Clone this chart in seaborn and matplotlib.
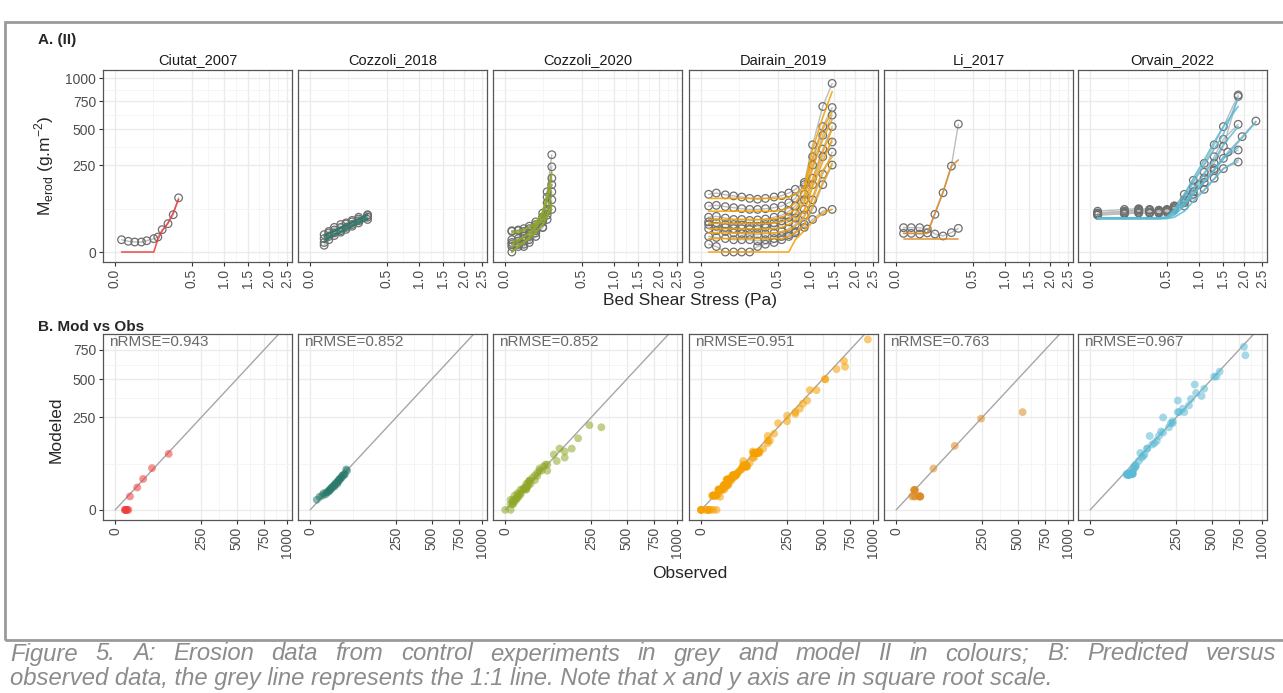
import numpy as np
import pandas as pd
import matplotlib
matplotlib.use('Agg')
import matplotlib.pyplot as plt
import seaborn as sns

# ---------------- DATA ----------------
studies = ['Ciutat_2007', 'Cozzoli_2018', 'Cozzoli_2020', 'Dairain_2019', 'Li_2017', 'Orvain_2022']
colours = ['#EE3B3B', '#2B7A6B', '#8FA82A', '#F5A000', '#DC8A25', '#5BBAD5']
nrmse = ['nRMSE=0.943', 'nRMSE=0.852', 'nRMSE=0.852', 'nRMSE=0.951', 'nRMSE=0.763', 'nRMSE=0.967']

# Ciutat_2007
ciu_x = [0.0037, 0.015, 0.033, 0.059, 0.085, 0.127, 0.155, 0.188, 0.237, 0.286, 0.341]
ciu_obs = [5.0, 3.8, 3.3, 3.3, 4.2, 5.9, 7.4, 16.5, 26.5, 46, 97]
ciu_mod = [0, 0, 0, 0, 0, 0, 5.3, 14.7, 28, 51, 92]

# Cozzoli_2018
coz18_x = [0.017, 0.03, 0.05, 0.08, 0.11, 0.15, 0.2, 0.28]
coz18_obs = [[3, 8, 12, 15, 20, 25, 32, 40],
             [6, 12, 16, 20, 26, 30, 36, 46],
             [1.5, 5, 9, 13, 17, 22, 28, 35],
             [10, 14, 20, 25, 28, 33, 40, 44]]
coz18_mod = [[5, 7, 10, 14, 18, 23, 30, 38],
             [8, 11, 14, 18, 23, 28, 35, 45],
             [3, 6, 9, 12, 16, 21, 27, 34],
             [9, 12, 16, 20, 25, 30, 36, 48]]

# Cozzoli_2020
coz20_x = [0.004, 0.015, 0.03, 0.05, 0.08, 0.12, 0.15, 0.185]
coz20_obs = [[2, 2, 1, 3, 8, 20, 60, 120],
             [15, 15, 14, 18, 25, 40, 80, 180],
             [0, 1, 2, 5, 15, 40, 120, 313],
             [3, 4, 6, 10, 20, 50, 100, 240],
             [14, 16, 18, 22, 30, 35, 45, 60],
             [1, 2, 4, 8, 12, 20, 35, 90],
             [5, 6, 8, 12, 18, 30, 55, 150]]
coz20_mod = [[1, 2, 3, 6, 12, 25, 45, 80],
             [12, 13, 15, 20, 30, 50, 90, 150],
             [0, 1, 3, 8, 20, 45, 100, 200],
             [2, 4, 7, 12, 25, 55, 110, 210],
             [14, 15, 17, 20, 26, 34, 45, 60],
             [0, 1, 3, 7, 14, 24, 40, 70],
             [4, 5, 8, 12, 20, 35, 60, 110]]

# Dairain_2019
dai_x = [0.005, 0.02, 0.05, 0.09, 0.14, 0.2, 0.27, 0.35, 0.45, 0.55, 0.65, 0.75, 0.9, 1.05, 1.25, 1.45]
dai_obs = [[110, 115, 108, 104, 100, 95, 92, 95, 100, 105, 115, 130, 160, 380, 700, 940],
           [70, 72, 68, 65, 62, 60, 60, 62, 65, 70, 80, 95, 150, 300, 520, 690],
           [40, 42, 38, 35, 35, 33, 34, 36, 40, 45, 55, 70, 110, 250, 450, 620],
           [30, 28, 25, 25, 24, 22, 22, 25, 28, 32, 40, 50, 90, 180, 350, 520],
           [25, 22, 20, 18, 18, 17, 18, 20, 22, 25, 30, 38, 60, 150, 300, 400],
           [18, 15, 14, 12, 11, 10, 10, 11, 12, 14, 18, 25, 45, 90, 200, 330],
           [8, 7, 6, 5, 5, 5, 4, 5, 6, 8, 10, 14, 25, 60, 150, 250],
           [2, 1, 0, 0, 0, 0, 1, 2, 3, 5, 8, 12, 20, 35, 55, 60]]
dai_mod = [[95, 95, 95, 95, 95, 95, 95, 95, 95, 95, 100, 110, 140, 350, 600, 850],
           [55, 55, 55, 55, 55, 55, 55, 55, 55, 58, 65, 80, 130, 280, 500, 650],
           [35, 35, 35, 35, 35, 35, 35, 35, 36, 40, 48, 60, 100, 230, 420, 580],
           [27, 27, 27, 27, 27, 27, 27, 27, 28, 30, 35, 45, 80, 170, 330, 500],
           [18, 18, 18, 18, 18, 18, 18, 18, 18, 20, 25, 33, 55, 140, 270, 420],
           [12, 12, 12, 12, 12, 12, 12, 12, 12, 13, 16, 22, 40, 100, 220, 300],
           [6, 6, 6, 6, 6, 6, 6, 6, 6, 6, 8, 12, 25, 70, 160, 260],
           [0, 0, 0, 0, 0, 0, 0, 0, 0, 0, 0, 5, 15, 30, 50, 60]]

# Li_2017
li_x = [0.0049, 0.0198, 0.0474, 0.083, 0.128, 0.187, 0.259, 0.328]
li_obs = [[19.6, 19.6, 19.6, 17.5, 10.7, 8.5, 12.4, 18.5],
          [11.5, 11.5, 10.7, 12, 46.9, 116, 244, 541]]
li_mod = [[5.3, 5.3, 5.3, 5.3, 5.3, 5.3, 5.3, 5.3],
          [11.5, 11.5, 11.5, 11.5, 50, 120, 244, 280]]

# Orvain_2022
orv_x = [0.005, 0.1, 0.2, 0.3, 0.4, 0.5, 0.6, 0.75, 0.9, 1.1, 1.3, 1.5, 1.85]
orv_x_long = [0.005, 0.1, 0.2, 0.3, 0.4, 0.5, 0.6, 0.8, 1.0, 1.3, 1.6, 1.95, 2.32]
orv_obs = [[50, 55, 58, 57, 55, 58, 70, 110, 170, 260, 380, 520, 815],
           [45, 50, 52, 50, 52, 55, 65, 90, 140, 210, 300, 420, 539],
           [55, 60, 62, 60, 58, 60, 70, 100, 150, 230, 330, 440, 567],
           [48, 52, 55, 53, 52, 55, 62, 80, 110, 160, 220, 290, 344],
           [45, 48, 50, 50, 50, 52, 58, 70, 95, 130, 180, 230, 268],
           [50, 55, 60, 58, 56, 58, 65, 85, 120, 180, 260, 370, 800]]
orv_mod = [[38, 38, 38, 38, 38, 40, 60, 110, 180, 280, 400, 520, 700],
           [38, 38, 38, 38, 38, 39, 50, 80, 130, 200, 280, 380, 520],
           [38, 38, 38, 38, 38, 40, 55, 90, 140, 220, 320, 430, 560],
           [37, 37, 37, 37, 37, 38, 45, 70, 110, 160, 220, 300, 360],
           [36, 36, 36, 36, 36, 37, 40, 55, 85, 125, 175, 230, 280],
           [38, 38, 38, 38, 38, 40, 55, 95, 160, 250, 350, 460, 780]]
orv_xs = [orv_x, orv_x, orv_x_long, orv_x, orv_x, orv_x]

caption1 = 'Figure 5. A: Erosion data from control experiments in grey and model II in colours; B: Predicted versus'
caption2 = 'observed data, the grey line represents the 1:1 line. Note that x and y axis are in square root scale.'

# build long table
rows = []
def add(study, curve, xs, obs, mod):
    for x, o, m in zip(xs, obs, mod):
        rows.append((study, curve, x, o, m))

add(studies[0], 0, ciu_x, ciu_obs, ciu_mod)
for i, (o, m) in enumerate(zip(coz18_obs, coz18_mod)):
    add(studies[1], i, coz18_x, o, m)
for i, (o, m) in enumerate(zip(coz20_obs, coz20_mod)):
    add(studies[2], i, coz20_x, o, m)
for i, (o, m) in enumerate(zip(dai_obs, dai_mod)):
    add(studies[3], i, dai_x, o, m)
for i, (o, m) in enumerate(zip(li_obs, li_mod)):
    add(studies[4], i, li_x, o, m)
for i, (xs, o, m) in enumerate(zip(orv_xs, orv_obs, orv_mod)):
    add(studies[5], i, xs, o, m)
df = pd.DataFrame(rows, columns=['study', 'curve', 'tau', 'obs', 'mod'])

# ---------------- PLOT ----------------
sns.set_theme(style='white')
plt.rcParams['font.family'] = ['Liberation Sans', 'DejaVu Sans']

W, H = 1283, 693
fig = plt.figure(figsize=(W / 100, H / 100), dpi=100)

def fwd(v):
    v = np.asarray(v, dtype=float)
    return np.sign(v) * np.sqrt(np.abs(v))

def inv(v):
    v = np.asarray(v, dtype=float)
    return np.sign(v) * v ** 2

def box(l, t, w, h):
    return [l / W, 1 - (t + h) / H, w / W, h / H]

def minors(br):
    s = np.sqrt(br)
    return list(((s[:-1] + s[1:]) / 2) ** 2)

def style(ax, xb, yb, xl, yl, xlab, ylab, show_y):
    ax.set_xscale('function', functions=(fwd, inv))
    ax.set_yscale('function', functions=(fwd, inv))
    ax.set_xlim(*xl)
    ax.set_ylim(*yl)
    ax.set_xticks(xb)
    ax.set_xticklabels(xlab, rotation=90)
    ax.set_yticks(yb)
    ax.set_yticklabels(ylab if show_y else [])
    ax.set_xticks(minors(np.array(xb, float)), minor=True)
    ax.set_yticks(minors(np.array(yb, float)), minor=True)
    ax.grid(True, which='major', color='#ebebeb', lw=1.0, zorder=0)
    ax.grid(True, which='minor', color='#f4f4f4', lw=0.6, zorder=0)
    ax.set_axisbelow(True)
    for s in ax.spines.values():
        s.set_color('#555555')
        s.set_linewidth(0.9)
    ax.tick_params(which='major', length=3, width=0.8, color='#333333', labelsize=10,
                   labelcolor='#4d4d4d', pad=2, left=show_y, bottom=True)
    ax.tick_params(which='minor', length=0)
    ax.set_xlabel('')
    ax.set_ylabel('')

lefts = [103, 298, 493, 689, 884, 1078]
pw = 189
xb_top = [0, 0.5, 1.0, 1.5, 2.0, 2.5]
xlab_top = ['0.0', '0.5', '1.0', '1.5', '2.0', '2.5']
yb = [0, 250, 500, 750, 1000]

for k, st in enumerate(studies):
    sub = df[df.study == st]
    ax = fig.add_axes(box(lefts[k], 70, pw, 192))
    sns.lineplot(data=sub, x='tau', y='obs', units='curve', estimator=None, color='#bdbdbd',
                 lw=1.0, ax=ax, sort=False)
    sns.scatterplot(data=sub, x='tau', y='obs', facecolor='none', edgecolor='#6f6f6f',
                    s=30, linewidth=0.9, ax=ax, zorder=3)
    sns.lineplot(data=sub, x='tau', y='mod', units='curve', estimator=None, color=colours[k],
                 lw=1.2, alpha=0.85, ax=ax, sort=False, zorder=4)
    style(ax, xb_top, yb, (-0.012, 2.64), (-3.3, 1095), xlab_top, [str(v) for v in yb], k == 0)
    ax.set_title(st, fontsize=10.5, color='#1a1a1a', pad=4)

    ax2 = fig.add_axes(box(lefts[k], 334, pw, 186))
    ax2.plot([0, 1100], [0, 1100], color='#a6a6a6', lw=1.0, zorder=2)
    sns.scatterplot(data=sub, x='obs', y='mod', color=colours[k], alpha=0.55, s=32,
                    edgecolor='none', ax=ax2, zorder=3)
    style(ax2, yb, [0, 250, 500, 750], (-5, 1058), (-3, 906), [str(v) for v in yb],
          ['0', '250', '500', '750'], k == 0)
    ax2.text(0.03, 0.995, nrmse[k], transform=ax2.transAxes, ha='left', va='top',
             fontsize=11, color='#6a6a6a')

# labels
fig.text(38 / W, 1 - 40 / H, 'A. (II)', fontsize=11, fontweight='bold', va='center')
fig.text(38 / W, 1 - 327 / H, 'B. Mod vs Obs', fontsize=11, fontweight='bold', va='center')
fig.text(44 / W, 1 - 166 / H, r'M$_{\mathregular{erod}}$ (g.m$^{\mathregular{-2}}$)', rotation=90,
         fontsize=12.5, ha='center', va='center')
fig.text(56 / W, 1 - 430 / H, 'Modeled', rotation=90, fontsize=12.5, ha='center', va='center')
fig.text(690 / W, 1 - 300 / H, 'Bed Shear Stress (Pa)', fontsize=12.5, ha='center', va='center')
fig.text(690 / W, 1 - 574 / H, 'Observed', fontsize=12.5, ha='center', va='center')

# outer frame
frame = plt.Rectangle((5 / W, 1 - 640 / H), 1.0, (640 - 22) / H, transform=fig.transFigure,
                      fill=False, edgecolor='#9a9a9a', lw=2.0)
fig.add_artist(frame)

# caption: first line justified word by word
cap_kw = dict(fontsize=17.2, style='italic', color='#8c8c8c', va='center')
renderer = fig.canvas.get_renderer()
words = caption1.split(' ')
tmp = [fig.text(0, 0, w, **cap_kw) for w in words]
widths = [t.get_window_extent(renderer).width for t in tmp]
for t in tmp:
    t.remove()
x0, x1 = 10, 1276
gap = (x1 - x0 - sum(widths)) / (len(words) - 1)
x = x0
for w, wd in zip(words, widths):
    fig.text(x / W, 1 - 654 / H, w, **cap_kw)
    x += wd + gap
fig.text(x0 / W, 1 - 679 / H, caption2, **cap_kw)

fig.savefig('out.png', dpi=100)
